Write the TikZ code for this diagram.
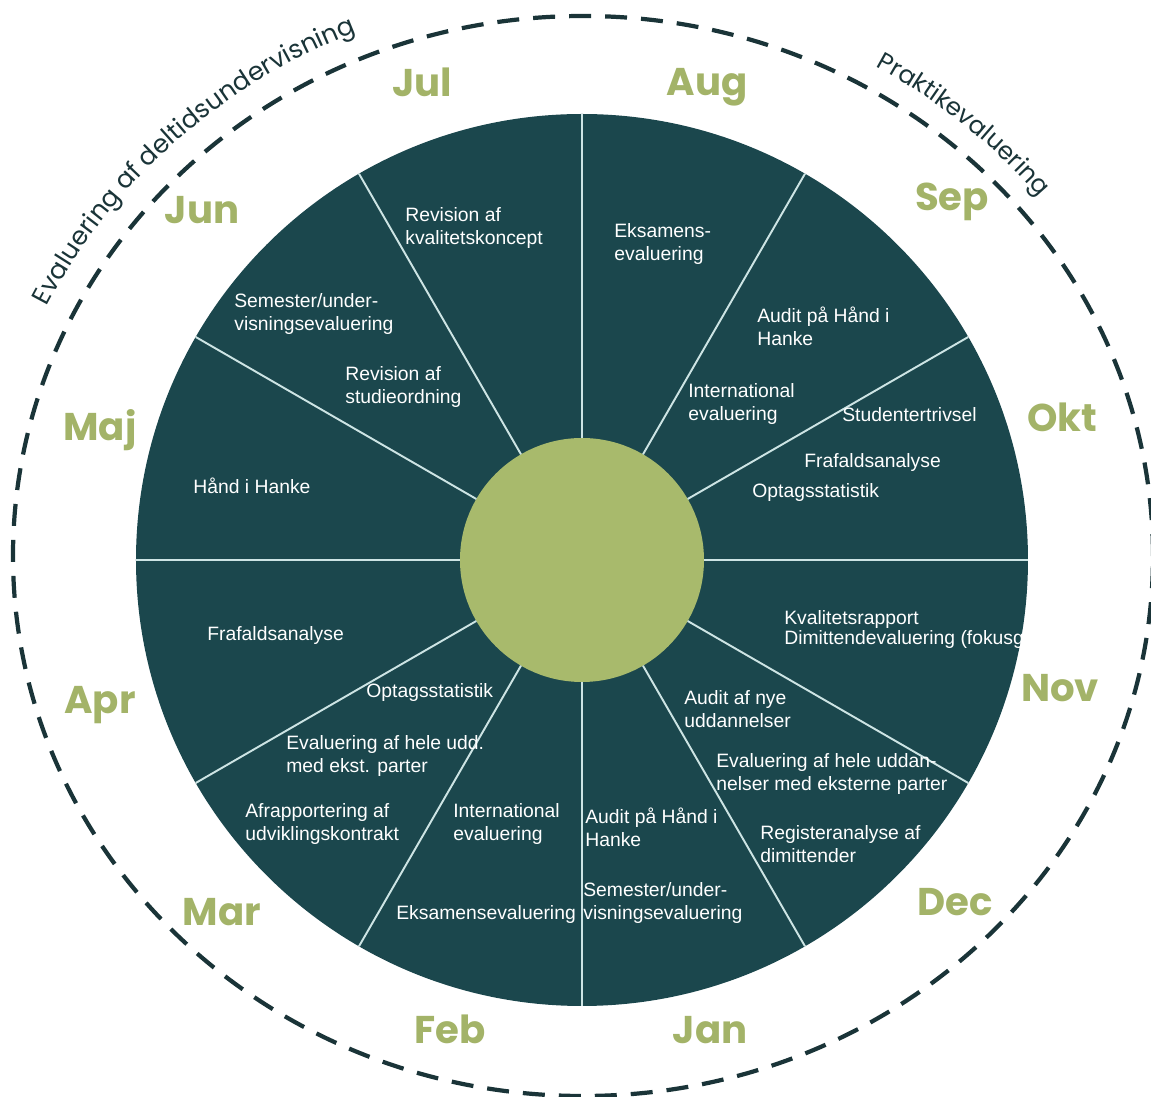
\documentclass[tikz,border=0pt]{standalone}
\usepackage{fontspec}
\setmainfont{Liberation Sans}
\newfontfamily\headfont{Poppins}
\usetikzlibrary{decorations.text}
\definecolor{wheelteal}{RGB}{27,71,77}
\definecolor{hubgreen}{RGB}{168,186,108}
\definecolor{monthgreen}{RGB}{163,179,104}
\definecolor{ringdark}{RGB}{26,52,56}
\definecolor{divline}{RGB}{205,228,228}

\begin{document}
\begin{tikzpicture}[month/.style={font=\headfont\bfseries\fontsize{22}{24}\selectfont,text=monthgreen,anchor=base},
                    item/.style={font=\fontsize{11}{13}\selectfont,text=white,align=left,anchor=north west,inner sep=0pt},
                    divider/.style={draw=divline,line width=1.1pt},
                    ring/.style={draw=ringdark,line width=2.4pt,dash pattern=on 0.44cm off 0.28cm},
                    disc/.style={circle,inner sep=0pt,outer sep=0pt}]
\useasboundingbox (-11.64,-10.74) rectangle (11.38,11.2);
\node[disc,fill=wheelteal,minimum size=17.84cm] (wheel) at (0,0) {};
\node[disc,fill=hubgreen,minimum size=4.88cm] (hub) at (0,0) {};
\foreach \a in {0,30,...,330}
  \draw[divider] (hub.\a) -- (wheel.\a);
\draw[ring] (0.02,0.08) ellipse [x radius=11.4cm, y radius=10.8cm];

\path[decorate,decoration={text along path,text align=center,text color=ringdark,
      text={|\headfont\fontsize{14.5}{16}\selectfont|Evaluering af deltidsundervisning}}]
  (160:11.95 and 11.4) arc[start angle=160,end angle=106,x radius=11.95cm,y radius=11.4cm];
\path[decorate,decoration={text along path,text align=center,text color=ringdark,
      text={|\headfont\fontsize{14}{16}\selectfont|Praktikevaluering}}]
  (67:11.9 and 11.35) arc[start angle=67,end angle=33,x radius=11.9cm,y radius=11.35cm];

\foreach \m/\x/\y in {Jul/-3.20/9.26,Aug/2.50/9.28,Sep/7.40/6.98,Okt/9.60/2.56,
                      Nov/9.56/-2.84,Dec/7.46/-7.12,Jan/2.56/-9.68,Feb/-2.64/-9.68,
                      Mar/-7.20/-7.32,Apr/-9.64/-3.08,Maj/-9.64/2.38,Jun/-7.60/6.72}
  \node[month] (\m) at (\x,\y) {\m};

\node[item] (revk) at (-3.54,7.06) {Revision af\\kvalitetskoncept};
\node[item] (eksaug) at (0.64,6.74) {Eksamens-\\evaluering};
\node[item] (audsep) at (3.50,5.06) {Audit på Hånd i\\Hanke};
\node[item] (intsep) at (2.12,3.54) {International\\evaluering};
\node[item] (stud) at (5.20,3.06) {Studentertrivsel};
\node[item] (frafokt) at (4.44,2.14) {Frafaldsanalyse};
\node[item] (optokt) at (3.40,1.54) {Optagsstatistik};
\begin{scope}
\clip (wheel.center) circle (8.92);
\node[item,font=\fontsize{11}{7}\selectfont] (kval) at (4.04,-1.00) {Kvalitetsrapport\\Dimittendevaluering (fokusg};
\end{scope}
\node[item] (nye) at (2.04,-2.60) {Audit af nye\\uddannelser};
\node[item] (heledec) at (2.68,-3.86) {Evaluering af hele uddan-\\nelser med eksterne parter};
\node[item] (reg) at (3.56,-5.30) {Registeranalyse af\\dimittender};
\node[item] (audjan) at (0.06,-4.96) {Audit på Hånd i\\Hanke};
\node[item] (semjan) at (0.02,-6.44) {Semester/under-\\visningsevaluering};
\node[item] (intfeb) at (-2.58,-4.86) {International\\evaluering};
\node[item] (eksfeb) at (-3.72,-6.90) {Eksamensevaluering};
\node[item] (afr) at (-6.74,-4.86) {Afrapportering af\\udviklingskontrakt};
\node[item] (helemar) at (-5.92,-3.50) {Evaluering af hele udd.\\med ekst. parter};
\node[item] (optapr) at (-4.32,-2.46) {Optagsstatistik};
\node[item] (frafapr) at (-7.50,-1.32) {Frafaldsanalyse};
\node[item] (haand) at (-7.78,1.64) {Hånd i Hanke};
\node[item] (revs) at (-4.74,3.88) {Revision af\\studieordning};
\node[item] (semjun) at (-6.96,5.34) {Semester/under-\\visningsevaluering};

\end{tikzpicture}
\end{document}
